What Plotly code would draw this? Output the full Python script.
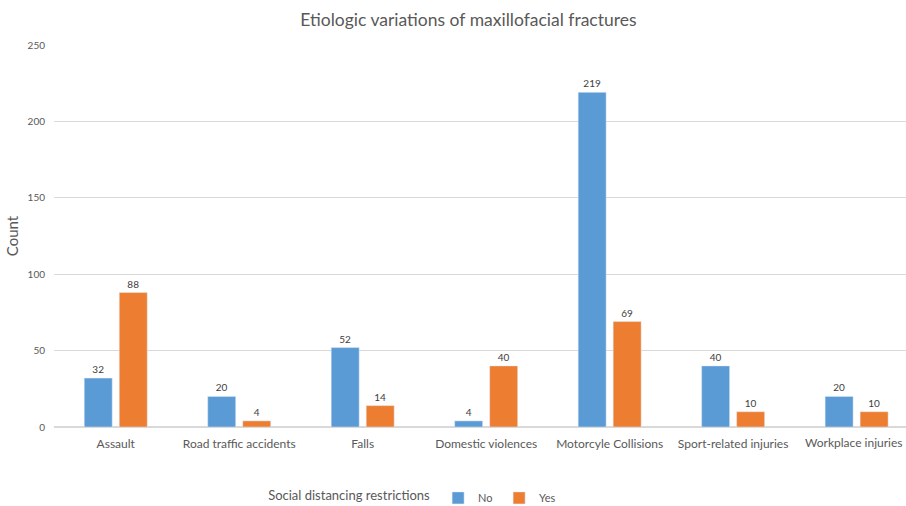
import plotly.graph_objects as go

categories = ["Assault", "Road traffic accidents", "Falls", "Domestic violences",
              "Motorcyle Collisions", "Sport-related injuries", "Workplace injuries"]
no_values = [32, 20, 52, 4, 219, 40, 20]
yes_values = [88, 4, 14, 40, 69, 10, 10]
y_ticks = [0, 50, 100, 150, 200, 250]

font_family = "Lato, Open Sans, sans-serif"

# the last category label is drawn right-aligned at the plot edge (as Excel does)
tick_text = categories[:-1] + [""]

fig = go.Figure()
fig.add_trace(go.Bar(name="No", x=categories, y=no_values, marker_color="#5B9BD5",
                     text=no_values, textposition="outside",
                     textfont=dict(size=10, color="#404040", family=font_family),
                     cliponaxis=False))
fig.add_trace(go.Bar(name="Yes", x=categories, y=yes_values, marker_color="#ED7D31",
                     text=yes_values, textposition="outside",
                     textfont=dict(size=10, color="#404040", family=font_family),
                     cliponaxis=False))

fig.add_annotation(text=categories[-1], xref="paper", x=1, xanchor="right", xshift=-1,
                   yref="paper", y=0, yanchor="top", yshift=-6, showarrow=False,
                   font=dict(size=12, color="#595959", family=font_family))

fig.update_layout(
    width=906, height=506,
    margin=dict(l=54, r=0, t=45, b=79, autoexpand=False),
    paper_bgcolor="white", plot_bgcolor="white",
    barmode="group", bargap=0.433, bargroupgap=0.2,
    font=dict(family=font_family, color="#595959", size=12),
    title=dict(text="Etiologic variations of maxillofacial fractures",
               x=0.517, xanchor="center", xref="container", yref="container", y=0.96,
               yanchor="middle",
               font=dict(size=17.5, color="#595959", family=font_family)),
    xaxis=dict(range=[-0.5, 6.4], showgrid=False, showline=True, linecolor="#D9D9D9",
               tickmode="array", tickvals=categories, ticktext=tick_text,
               tickfont=dict(size=12, color="#595959"), ticks="", automargin=False,
               ticklabelstandoff=6),
    yaxis=dict(range=[0, 250], tickvals=y_ticks, showgrid=True, gridcolor="#D9D9D9",
               zeroline=True, zerolinecolor="#D9D9D9", showline=False, automargin=False,
               tickfont=dict(size=10, color="#595959"), ticklabelstandoff=8,
               title=dict(text="Count", font=dict(size=15, color="#595959"), standoff=5)),
    legend=dict(orientation="h", x=0.249, xanchor="left", yref="container", y=0.016,
                yanchor="middle",
                title=dict(text="Social distancing restrictions", font=dict(size=13, color="#595959")),
                font=dict(size=11, color="#595959"), itemwidth=30,
                entrywidth=16, entrywidthmode="pixels", traceorder="normal"),
)

fig.write_html("out.html", config={"displayModeBar": False},
               post_script="document.body.style.margin='0';document.body.style.overflow='hidden';")
